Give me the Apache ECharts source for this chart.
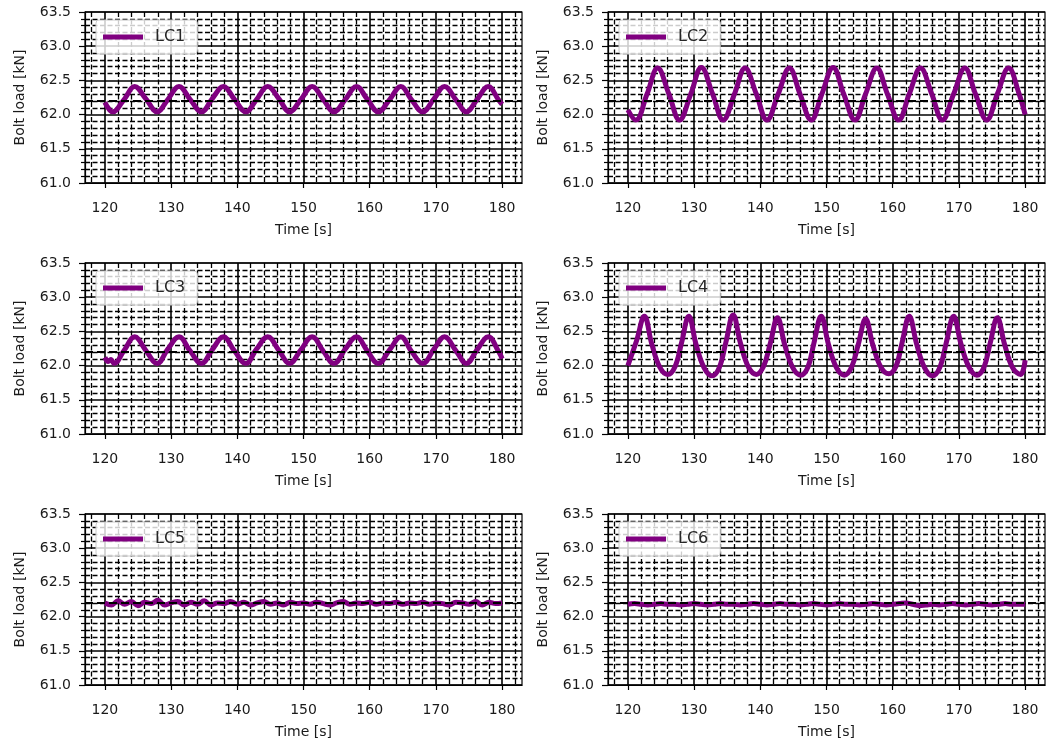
<!doctype html>
<html lang="en">
<head>
<meta charset="utf-8">
<title>Bolt load LC1-LC6</title>
<script src="https://cdn.jsdelivr.net/npm/echarts@6/dist/echarts.min.js"></script>
<style>
  html, body { margin: 0; padding: 0; background: #fff; }
  #chart { width: 1053px; height: 743px; }
</style>
</head>
<body>
<div id="chart"></div>
<script>
// axis ticks
var xMin = 117, xMax = 183;
var xMajor = [120, 130, 140, 150, 160, 170, 180];
var yMin = 61.0, yMax = 63.5, yStep = 0.5;
var pretension = 62.2; // dashed reference line

var caseNames = ['LC1', 'LC2', 'LC3', 'LC4', 'LC5', 'LC6'];

// LC1 (peaks / troughs / mid points)
var tA = [120, 121.2, 122.9, 124.5, 126.2, 127.9, 129.5, 131.2, 132.9, 134.6, 136.2, 137.9, 139.6, 141.3, 142.9, 144.6, 146.3, 147.9, 149.6, 151.3, 153.0, 154.6, 156.3, 158.0, 159.6, 161.3, 163.0, 164.7, 166.3, 168.0, 169.7, 171.3, 173.0, 174.6, 176.2, 177.9, 179.5, 180];
var v1 = [62.18, 62.04, 62.22, 62.41, 62.23, 62.04, 62.22, 62.41, 62.22, 62.04, 62.23, 62.41, 62.22, 62.04, 62.22, 62.41, 62.23, 62.04, 62.22, 62.41, 62.22, 62.04, 62.22, 62.41, 62.23, 62.04, 62.22, 62.41, 62.22, 62.04, 62.23, 62.41, 62.22, 62.04, 62.22, 62.41, 62.21, 62.15];

// LC2
var tB = [120, 121.2, 122.9, 124.5, 126.2, 127.8, 129.5, 131.1, 132.8, 134.4, 136.1, 137.7, 139.4, 141.0, 142.7, 144.4, 146.0, 147.7, 149.3, 151.0, 152.6, 154.3, 155.9, 157.6, 159.2, 160.9, 162.5, 164.2, 165.9, 167.5, 169.2, 170.9, 172.5, 174.2, 175.8, 177.5, 179.1, 180];
var v2 = [62.07, 61.92, 62.30, 62.68, 62.30, 61.92, 62.30, 62.69, 62.30, 61.92, 62.30, 62.68, 62.30, 61.92, 62.30, 62.68, 62.30, 61.92, 62.30, 62.69, 62.30, 61.92, 62.30, 62.68, 62.30, 61.92, 62.30, 62.68, 62.30, 61.92, 62.30, 62.68, 62.30, 61.92, 62.30, 62.68, 62.30, 62.00];

// LC3
var t3 = [120, 120.5, 120.9, 121.4, 122.9, 124.5, 126.2, 127.9, 129.5, 131.2, 132.9, 134.6, 136.2, 137.9, 139.6, 141.3, 142.9, 144.6, 146.3, 147.9, 149.6, 151.3, 153.0, 154.6, 156.3, 158.0, 159.6, 161.3, 163.0, 164.7, 166.3, 168.0, 169.7, 171.3, 173.0, 174.6, 176.2, 177.9, 179.5, 180];
var v3 = [62.12, 62.06, 62.09, 62.03, 62.22, 62.42, 62.22, 62.03, 62.24, 62.42, 62.21, 62.03, 62.23, 62.42, 62.21, 62.03, 62.24, 62.42, 62.22, 62.03, 62.23, 62.42, 62.21, 62.03, 62.24, 62.42, 62.22, 62.03, 62.23, 62.42, 62.21, 62.03, 62.24, 62.42, 62.22, 62.03, 62.23, 62.42, 62.20, 62.10];

// LC4
var t4 = [120, 121.3, 122.5, 123.6, 124.8, 126.0, 127.1, 128.1, 129.2, 130.3, 131.5, 132.7, 133.8, 134.8, 135.9, 137.0, 138.2, 139.4, 140.5, 141.5, 142.6, 143.7, 144.9, 146.1, 147.2, 148.1, 149.2, 150.3, 151.5, 152.7, 153.8, 154.8, 155.9, 157.0, 158.2, 159.4, 160.5, 161.4, 162.5, 163.6, 164.8, 166.0, 167.1, 168.1, 169.2, 170.3, 171.5, 172.7, 173.8, 174.7, 175.8, 176.9, 178.1, 179.3, 180];
var v4 = [62.00, 62.36, 62.72, 62.32, 61.98, 61.87, 61.98, 62.33, 62.72, 62.31, 61.97, 61.85, 61.97, 62.34, 62.74, 62.33, 61.98, 61.87, 61.99, 62.32, 62.70, 62.30, 61.97, 61.86, 61.98, 62.33, 62.72, 62.31, 61.97, 61.86, 61.98, 62.31, 62.68, 62.30, 61.98, 61.88, 61.99, 62.33, 62.72, 62.32, 61.97, 61.85, 61.97, 62.34, 62.72, 62.32, 61.98, 61.86, 61.98, 62.32, 62.70, 62.31, 61.97, 61.87, 62.08];

// LC5 / LC6, one reading per second
var tS = [120, 121, 122, 123, 124, 125, 126, 127, 128, 129, 130, 131, 132, 133, 134, 135, 136, 137, 138, 139, 140, 141, 142, 143, 144, 145, 146, 147, 148, 149, 150, 151, 152, 153, 154, 155, 156, 157, 158, 159, 160, 161, 162, 163, 164, 165, 166, 167, 168, 169, 170, 171, 172, 173, 174, 175, 176, 177, 178, 179, 180];
var v5 = [62.20, 62.17, 62.23, 62.18, 62.22, 62.16, 62.21, 62.19, 62.24, 62.17,
          62.20, 62.22, 62.17, 62.21, 62.18, 62.23, 62.17, 62.20, 62.19, 62.22,
          62.18, 62.21, 62.17, 62.20, 62.22, 62.18, 62.20, 62.17, 62.21, 62.19,
          62.20, 62.18, 62.21, 62.19, 62.17, 62.20, 62.22, 62.18, 62.20, 62.19,
          62.21, 62.18, 62.20, 62.19, 62.21, 62.18, 62.20, 62.19, 62.21, 62.18,
          62.20, 62.19, 62.17, 62.21, 62.20, 62.18, 62.22, 62.17, 62.21, 62.19,
          62.20];
var v6 = [62.18, 62.19, 62.18, 62.17, 62.18, 62.19, 62.18, 62.18, 62.17, 62.18,
          62.19, 62.18, 62.17, 62.18, 62.19, 62.18, 62.18, 62.17, 62.18, 62.19,
          62.18, 62.17, 62.18, 62.19, 62.18, 62.18, 62.17, 62.18, 62.19, 62.18,
          62.17, 62.18, 62.19, 62.18, 62.18, 62.17, 62.18, 62.19, 62.18, 62.17,
          62.18, 62.19, 62.20, 62.18, 62.16, 62.17, 62.18, 62.17, 62.18, 62.19,
          62.18, 62.17, 62.18, 62.19, 62.18, 62.17, 62.18, 62.19, 62.18, 62.18,
          62.18];

var panelTimes = [tA, tB, t3, t4, tS, tS];
var panelValues = [v1, v2, v3, v4, v5, v6];

// minor x grid every 2 s (not on the majors)
var xMinor = [];
for (var m = 118; m < xMax; m += 2) {
  if (xMajor.indexOf(m) < 0) xMinor.push(m);
}

var FONT = 'DejaVu Sans';
var TXT = '#1a1a1a';
var colLeft = [85, 608], rowTop = [12, 263, 514];
var plotW = 437, plotH = 171;

var grids = [], xAxes = [], yAxes = [], series = [], legends = [];

caseNames.forEach(function (name, i) {
  var left = colLeft[i % 2], top = rowTop[Math.floor(i / 2)];
  grids.push({
    left: left, top: top, width: plotW, height: plotH,
    show: true, borderColor: '#000', borderWidth: 1.2, backgroundColor: 'transparent'
  });

  // major x axis with labels
  xAxes.push({
    gridIndex: i, type: 'value', min: xMin, max: xMax, position: 'bottom',
    name: 'Time [s]', nameLocation: 'middle', nameGap: 40,
    nameTextStyle: { fontFamily: FONT, fontSize: 14, color: TXT },
    axisLine: { onZero: false, lineStyle: { color: '#000', width: 1.2 } },
    axisTick: { customValues: xMajor, length: 5, lineStyle: { color: '#000', width: 1.2 } },
    axisLabel: { customValues: xMajor, margin: 18, fontFamily: FONT, fontSize: 14, color: TXT },
    splitLine: { show: true, lineStyle: { color: '#000', width: 1.6 } }
  });
  // minor x grid
  xAxes.push({
    gridIndex: i, type: 'value', min: xMin, max: xMax,
    axisLine: { show: false }, axisLabel: { show: false },
    axisTick: { show: false, customValues: xMinor },
    splitLine: { show: true, lineStyle: { color: '#000', width: 1.3, type: [5, 2.5] } }
  });

  yAxes.push({
    gridIndex: i, type: 'value', min: yMin, max: yMax, interval: yStep,
    name: 'Bolt load [kN]', nameLocation: 'middle', nameGap: 58,
    nameTextStyle: { fontFamily: FONT, fontSize: 14, color: TXT },
    axisLine: { lineStyle: { color: '#000', width: 1.2 } },
    axisTick: { length: 6, lineStyle: { color: '#000', width: 1.2 } },
    minorTick: { show: true, splitNumber: 5, length: 4, lineStyle: { color: '#000', width: 1.2 } },
    axisLabel: {
      margin: 14, fontFamily: FONT, fontSize: 14, color: TXT,
      formatter: function (v) { return v.toFixed(1); }
    },
    splitLine: { show: true, lineStyle: { color: '#000', width: 1.6 } },
    minorSplitLine: { show: true, lineStyle: { color: '#000', width: 1.3, type: [5, 2.5] } }
  });

  var ts = panelTimes[i], vs = panelValues[i];
  series.push({
    name: name, type: 'line',
    xAxisIndex: 2 * i, yAxisIndex: i,
    data: ts.map(function (t, k) { return [t, vs[k]]; }),
    showSymbol: false, smooth: 0.4,
    lineStyle: { color: '#800080', width: 5 },
    itemStyle: { color: '#800080' },
    emphasis: { disabled: true },
    markLine: {
      silent: true, symbol: 'none', label: { show: false },
      lineStyle: { color: '#000', type: [8, 4], width: 2 },
      data: [{ yAxis: pretension }]
    }
  });

  legends.push({
    data: [name], left: left + 11, top: top + 8,
    icon: 'rect', itemWidth: 40, itemHeight: 5,
    backgroundColor: 'rgba(255,255,255,0.8)',
    borderColor: '#cccccc', borderWidth: 1, borderRadius: 3,
    padding: [9, 12, 9, 7],
    textStyle: { fontFamily: FONT, fontSize: 16, color: '#262626', padding: [0, 0, 0, 7] },
    selectedMode: false
  });
});

var chart = echarts.init(document.getElementById('chart'));
chart.setOption({
  animation: false,
  backgroundColor: '#fff',
  grid: grids,
  xAxis: xAxes,
  yAxis: yAxes,
  legend: legends,
  series: series
});
</script>
</body>
</html>
